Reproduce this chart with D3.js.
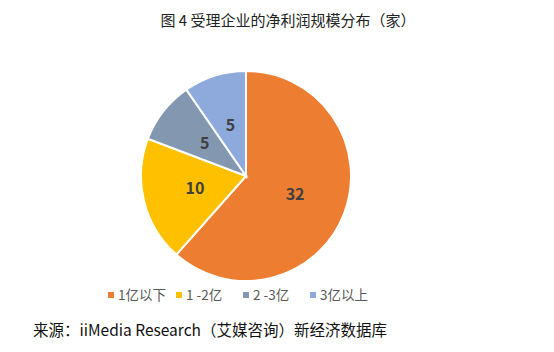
<!DOCTYPE html>
<html lang="zh">
  <head>
    <meta charset="UTF-8" />
    <script src="https://d3js.org/d3.v7.min.js"></script>
    <title>受理企业的净利润规模分布</title>
    <style>
      body { margin: 0; background: #fff; }
      text { font-family: "Noto Sans CJK SC", "Noto Sans", sans-serif; }
    </style>
  </head>
  <body>
    <script>
      const categories = ["1亿以下", "1 -2亿", "2 -3亿", "3亿以上"];
      const values = [32, 10, 5, 5];
      const colors = ["#ED7D31", "#FFC000", "#8497B0", "#8EA9DB"];

      const width = 554, height = 352;
      const cx = 246, cy = 176, radius = 105;

      const svg = d3.select("body")
        .append("svg")
        .attr("width", width)
        .attr("height", height);

      svg.append("text")
        .attr("x", 288)
        .attr("y", 26)
        .attr("text-anchor", "middle")
        .attr("font-size", 15)
        .attr("fill", "#222")
        .attr("xml:space", "preserve")
        .text("图 4 受理企业的净利润规模分布（家）");

      const data = categories.map((c, i) => ({ name: c, value: values[i] }));

      const pie = d3.pie()
        .value((d) => d.value)
        .sort(null);

      const arc = d3.arc().innerRadius(0).outerRadius(radius);
      const labelArc = d3.arc().innerRadius(radius * 0.5).outerRadius(radius * 0.5);

      const g = svg.append("g").attr("transform", `translate(${cx},${cy})`);

      g.selectAll("path")
        .data(pie(data))
        .join("path")
        .attr("d", arc)
        .attr("fill", (d, i) => colors[i])
        .attr("stroke", "#fff")
        .attr("stroke-width", 2);

      g.selectAll("text")
        .data(pie(data))
        .join("text")
        .attr("transform", (d) => `translate(${labelArc.centroid(d)})`)
        .attr("text-anchor", "middle")
        .attr("dy", "0.35em")
        .attr("font-size", 16)
        .attr("font-weight", "bold")
        .attr("fill", "#404040")
        .text((d) => d.data.value);

      // legend
      const legendX = [108, 176, 243, 310];
      const legend = svg.append("g");
      categories.forEach((c, i) => {
        legend.append("rect")
          .attr("x", legendX[i])
          .attr("y", 292)
          .attr("width", 6)
          .attr("height", 6)
          .attr("fill", colors[i]);
        legend.append("text")
          .attr("x", legendX[i] + 10)
          .attr("y", 300)
          .attr("font-size", 13.5)
          .attr("fill", "#595959")
          .text(c);
      });

      svg.append("text")
        .attr("x", 33)
        .attr("y", 336)
        .attr("font-size", 15.5)
        .attr("fill", "#111")
        .text("来源：iiMedia Research（艾媒咨询）新经济数据库");
    </script>
  </body>
</html>
